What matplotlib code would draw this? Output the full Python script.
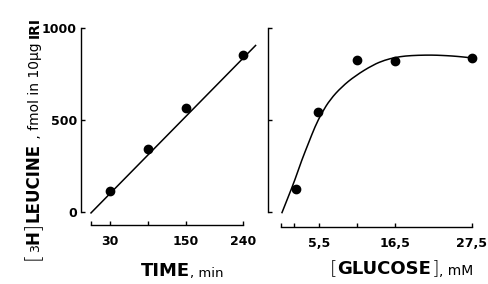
import matplotlib
matplotlib.use("Agg")
import matplotlib.pyplot as plt
from matplotlib.path import Path
from matplotlib.patches import PathPatch

# --- donnees ---
temps = [30, 90, 150, 240]                      # min
leucine_temps = [114, 342, 565, 853]            # fmol / 10 ug IRI
droite_t = [0, 260]                             # droite tracee a la main
droite_y = [-5, 905]

glucose = [2.1, 5.4, 11, 16.5, 27.5]            # mM
leucine_glucose = [125, 545, 826, 821, 837]
courbe_x = [0.1, 1.05, 2.0, 3.0, 3.95, 4.9, 5.9, 7.1, 8.75, 10.7, 13.3,
            15.0, 16.5, 17.9, 19.8, 21.8, 23.2, 24.7, 26.2, 27.6]
courbe_y = [-7, 83, 174, 283, 373, 464, 540, 612, 680, 740, 800,
            826, 840, 848, 852, 853, 851, 848, 843, 837]

ticks_temps = [0, 30, 90, 150, 240]
labels_temps = ["", "30", "", "150", "240"]
ticks_glucose = [0, 1.8, 5.5, 11, 16.5, 27.5]
labels_glucose = ["", "", "5,5", "", "16,5", "27,5"]
ticks_y = [0, 500, 1000]
labels_y = ["0", "500", "1000"]

W, H = 489, 284
fig = plt.figure(figsize=(W / 100, H / 100), dpi=100)


def rect(x0, y0, x1, y1):
    # coordonnees pixels (origine en haut a gauche) -> fraction de figure
    return [x0 / W, 1 - y1 / H, (x1 - x0) / W, (y1 - y0) / H]


def style_axe(ax):
    for s in ["top", "right"]:
        ax.spines[s].set_visible(False)
    for s in ["left", "bottom"]:
        ax.spines[s].set_linewidth(1.0)
    ax.tick_params(direction="in", length=3, width=1.0)
    ax.tick_params(axis="x", pad=7)
    ax.tick_params(axis="y", pad=3)
    for lab in ax.get_xticklabels() + ax.get_yticklabels():
        lab.set_fontweight("bold")
        lab.set_fontsize(9)


def courbe_lisse(ax, xs, ys):
    # trace lisse : beziers quadratiques passant par les milieux
    pts = list(zip(xs, ys))
    verts = [pts[0]]
    codes = [Path.MOVETO]
    for i in range(1, len(pts) - 1):
        mx = (pts[i][0] + pts[i + 1][0]) / 2
        my = (pts[i][1] + pts[i + 1][1]) / 2
        verts += [pts[i], (mx, my)]
        codes += [Path.CURVE3, Path.CURVE3]
    verts.append(pts[-1])
    codes.append(Path.LINETO)
    ax.add_patch(PathPatch(Path(verts, codes), fill=False, lw=1.1,
                           edgecolor="black", clip_on=False))


# --- panneau gauche : temps ---
ax1 = fig.add_axes(rect(81, 28, 259, 225))
ax1.set_xlim(-15.8, 265.4)
ax1.set_ylim(-70.7, 1000)
ax1.plot(droite_t, droite_y, color="black", lw=1.1, clip_on=False)
ax1.plot(temps, leucine_temps, "o", color="black", ms=6, clip_on=False)
ax1.spines["bottom"].set_bounds(0, 240)
ax1.spines["left"].set_bounds(0, 1000)
ax1.set_xticks(ticks_temps)
ax1.set_xticklabels(labels_temps)
ax1.set_yticks(ticks_y)
ax1.set_yticklabels(labels_y)
style_axe(ax1)

# --- panneau droit : glucose ---
ax2 = fig.add_axes(rect(268, 28, 479, 227))
ax2.set_xlim(-1.88, 28.57)
ax2.set_ylim(-81.5, 1000)
courbe_lisse(ax2, courbe_x, courbe_y)
ax2.plot(glucose, leucine_glucose, "o", color="black", ms=6, clip_on=False)
ax2.spines["bottom"].set_bounds(0, 27.5)
ax2.spines["left"].set_bounds(0, 1000)
ax2.set_xticks(ticks_glucose)
ax2.set_xticklabels(labels_glucose)
ax2.set_yticks(ticks_y)
ax2.set_yticklabels([])
style_axe(ax2)


# --- titres d'axes en plusieurs morceaux ---
def chaine(morceaux, x, y, rot=0):
    dernier = None
    for txt, taille, poids in morceaux:
        if dernier is None:
            if rot:
                dernier = fig.text(x / W, 1 - y / H, txt, fontsize=taille,
                                   fontweight=poids, rotation=90,
                                   ha="right", va="bottom")
            else:
                dernier = fig.text(x / W, 1 - y / H, txt, fontsize=taille,
                                   fontweight=poids, ha="left", va="bottom")
        elif rot:
            dernier = ax1.annotate(txt, xy=(1, 1), xycoords=dernier,
                                   fontsize=taille, fontweight=poids,
                                   rotation=90, ha="right", va="bottom",
                                   annotation_clip=False)
        else:
            dernier = ax1.annotate(txt, xy=(1, 0), xycoords=dernier,
                                   fontsize=taille, fontweight=poids,
                                   ha="left", va="bottom",
                                   annotation_clip=False)


chaine([("TIME", 13, "heavy"), (", min", 9.5, "normal")], 141, 280)
chaine([("[", 14, "light"), ("GLUCOSE", 13, "heavy"),
        ("]", 14, "light"), (", mM", 10, "normal")], 330, 278)
chaine([("[", 15, "light"), ("3", 9, "normal"), ("H", 12, "heavy"),
        ("]", 15, "light"), ("LEUCINE", 12, "heavy"),
        (" , fmol in 10\u00b5g ", 10, "normal"), ("IRI", 10, "heavy")],
       42, 260, rot=1)

fig.savefig("out.png", dpi=100)
